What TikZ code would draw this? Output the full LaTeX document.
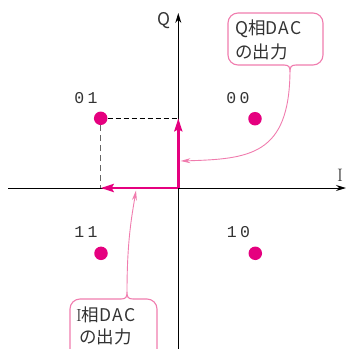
\documentclass[tikz,border=0pt]{standalone}
\usepackage{fontspec}
\usetikzlibrary{arrows.meta}
\newfontfamily\cjk{Noto Sans CJK JP}
\newfontfamily\cjkw[LetterSpace=7]{Noto Sans CJK JP}
\newfontfamily\monof[LetterSpace=20]{Liberation Mono}
\definecolor{mag}{HTML}{E5007F}
\definecolor{pinkl}{HTML}{F07CAE}
\definecolor{txt}{HTML}{333333}
\tikzset{
  axis/.style={line width=1pt, -{Stealth[length=10pt,width=6pt]}},
  dot/.style={circle, fill=mag, inner sep=0pt, minimum size=13.5pt},
  lbl/.style={font=\monof\fontsize{16.5}{16.5}\selectfont, text=txt, inner sep=0pt},
  comp/.style={mag, line width=2.6pt, -{Stealth[length=13pt,width=8pt,inset=2pt]}},
  callout/.style={pinkl, line width=1.1pt},
  ptr/.style={pinkl, line width=0.9pt, -{Stealth[length=10pt,width=5pt]}},
  jtxt/.style={font=\cjk\fontsize{17.5}{17.5}\selectfont, text=txt, inner sep=0pt, anchor=west},
  guide/.style={dashed, line width=0.8pt, dash pattern=on 5pt off 3pt}
}
\begin{document}
\begin{tikzpicture}[x=1pt, y=-1pt]
\useasboundingbox (0,0) rectangle (347,349);
\clip (0,0) rectangle (347,349);
% axes
\coordinate (O) at (178.3,188);
\coordinate (xl) at (8,188);
\coordinate (xr) at (346,188);
\coordinate (yb) at (178.3,352);
\coordinate (yt) at (178.3,13);
\draw[axis] (xl) -- (xr);
\draw[axis] (yb) -- (yt);
\node[font=\cjk\fontsize{17.5}{17.5}\selectfont, text=txt, inner sep=0pt] (Q) at (164,21) {Q};
\node[font=\fontsize{18}{18}\selectfont, text=txt, inner sep=0pt] (I) at (340,175) {I};
% dots
\node[dot] (d01) at (100.7,118.3) {};
\node[dot] (d00) at (255,118.7) {};
\node[dot] (d11) at (101,253.3) {};
\node[dot] (d10) at (255.3,253.3) {};
\node[lbl] (l01) at (86,98) {01};
\node[lbl] (l00) at (238,98) {00};
\node[lbl] (l11) at (86,232.5) {11};
\node[lbl] (l10) at (238.5,232) {10};
% guides
\coordinate (gq) at (178.3,118.3);
\coordinate (gi) at (100.7,188);
\draw[guide, black] (d01.east) -- (gq);
\draw[guide, black!60, line width=1.3pt, dash pattern=on 6pt off 4pt] (d01.south) -- (gi);
% component arrows
\draw[comp] (O) -- (gq);
\draw[comp] (O) -- (gi);
% Q callout
\draw[callout, rounded corners=10pt] (284,65) -- (228,65) -- (228,13) -- (323,13) -- (323,65) -- (296,65);
\coordinate (qn) at (290,72);
\draw[callout] (284,65) .. controls (289,65) and (290,67) .. (qn) .. controls (290,67) and (291,65) .. (296,65);
\node[jtxt] (qt1) at (235,29) {{\cjkw Q}相{\cjkw DAC}};
\node[jtxt] (qt2) at (235,52) {の出力};
\coordinate (qa) at (180.5,161);
\draw[ptr] (qn) .. controls (289,155) and (250,159) .. (qa);
% I callout
\draw[callout, rounded corners=10pt] (121,299) -- (70,299) -- (70,370) -- (157,370) -- (157,299) -- (133,299);
\coordinate (inotch) at (127,292);
\draw[callout] (121,299) .. controls (126,299) and (127,297) .. (inotch) .. controls (127,297) and (128,299) .. (133,299);
\node[jtxt] (it1) at (76,315) {{\rmfamily I}相{\cjkw DAC}};
\node[jtxt] (it2) at (79,337) {の出力};
\coordinate (ia) at (136,190.5);
\draw[ptr] (inotch) .. controls (127,240) and (132,215) .. (ia);
\end{tikzpicture}
\end{document}
